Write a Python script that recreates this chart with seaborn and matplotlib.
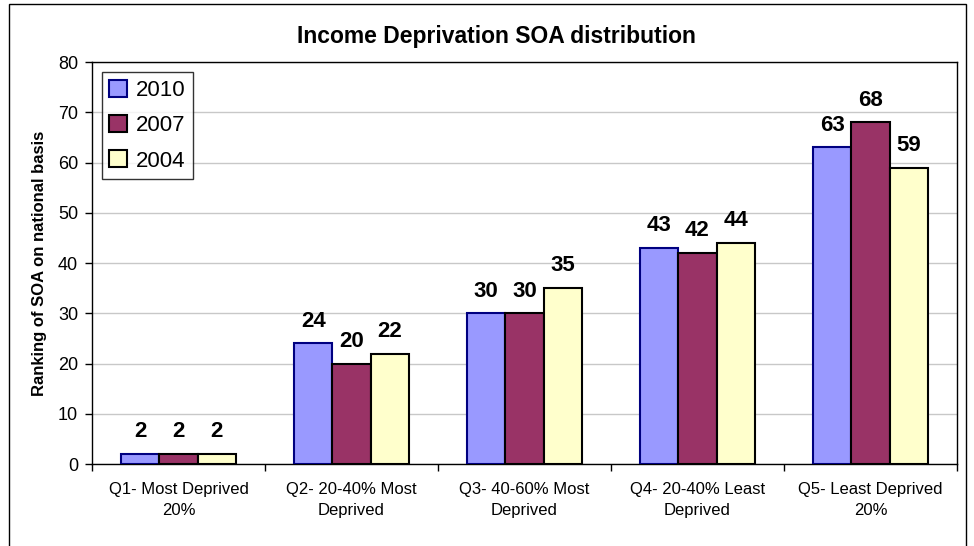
import numpy as np
import pandas as pd
import matplotlib
matplotlib.use("Agg")
import matplotlib.pyplot as plt
import seaborn as sns
from matplotlib.patches import Rectangle

# --- data ---
categories = ["Q1- Most Deprived\n20%", "Q2- 20-40% Most\nDeprived",
              "Q3- 40-60% Most\nDeprived", "Q4- 20-40% Least\nDeprived",
              "Q5- Least Deprived\n20%"]
years = ["2010", "2007", "2004"]
values_2010 = [2, 24, 30, 43, 63]
values_2007 = [2, 20, 30, 42, 68]
values_2004 = [2, 22, 35, 44, 59]

colors = {"2010": "#9999FF", "2007": "#993366", "2004": "#FFFFCC"}
edges = {"2010": "#000080", "2007": "#000000", "2004": "#000000"}

df = pd.DataFrame({
    "category": categories * 3,
    "year": ["2010"] * 5 + ["2007"] * 5 + ["2004"] * 5,
    "value": values_2010 + values_2007 + values_2004,
})

sns.set_style("white")
plt.rcParams["font.family"] = ["Liberation Sans", "DejaVu Sans"]
plt.rcParams["text.color"] = "black"
plt.rcParams["axes.labelcolor"] = "black"
plt.rcParams["xtick.color"] = "black"
plt.rcParams["ytick.color"] = "black"

fig = plt.figure(figsize=(9.74, 5.46), dpi=100)
ax = fig.add_axes([0.0945, 0.150, 0.888, 0.7364])

sns.barplot(data=df, x="category", y="value", hue="year", hue_order=years,
            palette=colors, width=0.665, saturation=1, ax=ax, zorder=3)

# bar outlines + value labels
for cont, yr in zip(ax.containers, years):
    for bar in cont:
        bar.set_edgecolor(edges[yr])
        bar.set_linewidth(1.5)
        h = bar.get_height()
        ax.annotate(f"{h:.0f}", (bar.get_x() + bar.get_width() / 2, h),
                    xytext=(0, 16), textcoords="offset points",
                    ha="center", va="center", fontsize=16, fontweight="bold",
                    color="black")

ax.set_ylim(0, 80)
ax.set_yticks(np.arange(0, 81, 10))
ax.set_xlim(-0.5, 4.5)
ax.yaxis.grid(True, color="#c8c8c8", linewidth=1, zorder=0)
ax.set_axisbelow(True)

ax.tick_params(axis="y", direction="out", length=5, width=1, labelsize=13, left=True, pad=5)
ax.tick_params(axis="x", which="major", length=0, labelsize=12, pad=13)
ax.set_xticks(np.arange(-0.5, 4.6, 1), minor=True)
ax.tick_params(axis="x", which="minor", direction="out", length=5, width=1, bottom=True)
for lbl in ax.get_xticklabels():
    lbl.set_linespacing(1.5)

for s in ax.spines.values():
    s.set_visible(True)
    s.set_color("black")
    s.set_linewidth(1)

ax.set_xlabel("")
ax.set_ylabel("Ranking of SOA on national basis", fontsize=12, fontweight="bold", labelpad=8)
fig.text(0.510, 0.934, "Income Deprivation SOA distribution", ha="center", va="center",
         fontsize=16.5, fontweight="bold", color="black")

leg = ax.legend(loc="upper left", bbox_to_anchor=(0.011, 0.975), fontsize=16,
                frameon=True, fancybox=False, edgecolor="black", handlelength=0.8,
                handleheight=0.8, handletextpad=0.4, borderpad=0.35, labelspacing=0.63,
                borderaxespad=0)
leg.get_frame().set_linewidth(1)
for h, yr in zip(leg.legend_handles, years):
    h.set_edgecolor(edges[yr])
    h.set_linewidth(1.5)

# outer chart border
fig.patches.append(Rectangle((9 / 974, -0.02), 957 / 974, 1 - 4 / 546 + 0.02,
                             transform=fig.transFigure, fill=False,
                             edgecolor="black", linewidth=1))

fig.savefig("out.png", dpi=100)
